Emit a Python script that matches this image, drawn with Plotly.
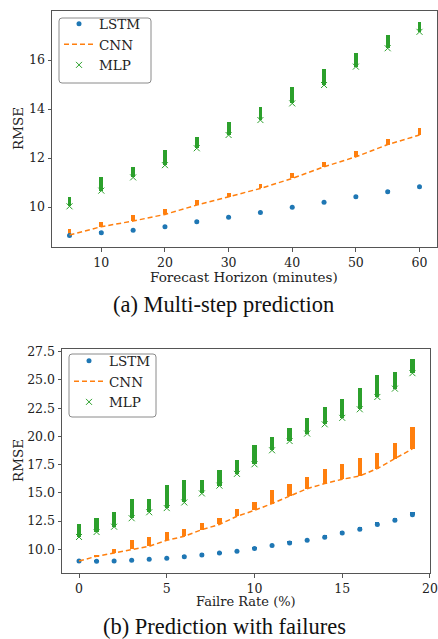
import plotly.graph_objects as go

# ---------------- data: (a) multi-step prediction ----------------
horizon = [5, 10, 15, 20, 25, 30, 35, 40, 45, 50, 55, 60]
lstm_a_mean = [8.84, 8.95, 9.05, 9.20, 9.40, 9.58, 9.78, 9.99, 10.20, 10.42, 10.62, 10.83]
lstm_a_high = [8.90, 9.00, 9.10, 9.25, 9.45, 9.62, 9.83, 10.05, 10.25, 10.47, 10.67, 10.90]
cnn_a_mean = [8.86, 9.20, 9.43, 9.70, 10.08, 10.41, 10.76, 11.17, 11.64, 12.05, 12.55, 12.94]
cnn_a_high = [9.09, 9.40, 9.66, 9.93, 10.29, 10.58, 10.96, 11.37, 11.84, 12.30, 12.78, 13.21]
mlp_a_mean = [10.03, 10.67, 11.21, 11.71, 12.40, 12.94, 13.55, 14.23, 14.98, 15.73, 16.48, 17.15]
mlp_a_high = [10.42, 11.24, 11.62, 12.33, 12.87, 13.48, 14.09, 14.91, 15.62, 16.27, 17.02, 17.56]

# ---------------- data: (b) prediction with failures ----------------
fail_rate = list(range(20))
lstm_b_mean = [8.96, 8.94, 8.96, 9.03, 9.11, 9.20, 9.35, 9.50, 9.67, 9.82,
               10.06, 10.33, 10.56, 10.80, 11.06, 11.45, 11.77, 12.20, 12.57, 13.07]
lstm_b_high = [9.01, 8.99, 9.01, 9.10, 9.20, 9.30, 9.45, 9.62, 9.79, 9.94,
               10.20, 10.48, 10.71, 10.95, 11.24, 11.63, 11.97, 12.40, 12.77, 13.32]
cnn_b_mean = [8.96, 9.38, 9.67, 10.00, 10.27, 10.80, 11.15, 11.74, 12.20, 12.92,
              13.45, 14.05, 14.69, 15.37, 15.82, 16.20, 16.50, 17.15, 18.03, 18.90]
cnn_b_high = [9.05, 9.50, 10.06, 10.80, 11.09, 11.53, 11.83, 12.36, 12.80, 13.60,
              14.19, 15.22, 15.82, 16.40, 17.09, 17.53, 18.12, 18.56, 19.42, 20.83]
mlp_b_mean = [11.09, 11.53, 12.00, 12.75, 13.28, 13.65, 14.15, 14.95, 15.64, 16.68,
              17.53, 18.77, 19.59, 20.25, 21.07, 21.64, 22.40, 23.49, 24.23, 25.60]
mlp_b_high = [12.21, 12.77, 13.28, 14.43, 14.43, 15.67, 16.17, 16.11, 17.06, 17.95,
              19.21, 19.98, 20.78, 21.66, 22.60, 23.32, 24.32, 25.45, 25.73, 26.87]

series_names = ["LSTM", "CNN", "MLP"]
ticks_a_x = [10, 20, 30, 40, 50, 60]
ticks_a_y = [10, 12, 14, 16]
ticks_b_x = [0, 5, 10, 15, 20]
ticks_b_y = [10.0, 12.5, 15.0, 17.5, 20.0, 22.5, 25.0, 27.5]

BLUE, ORANGE, GREEN = "#1f77b4", "#ff7f0e", "#2ca02c"
FONT = "DejaVu Serif"
CAP_FONT = "Liberation Serif"
AX = "#555555"
TXT = "#222222"

fig = go.Figure()


def add_panel(x, means, highs, xa, ya, bw, legend):
    cols = [BLUE, ORANGE, GREEN]
    for m, h, c in zip(means, highs, cols):
        fig.add_trace(go.Bar(
            x=x, y=[hh - mm for hh, mm in zip(h, m)], base=m, width=bw,
            marker=dict(color=c, line=dict(width=0)),
            xaxis=xa, yaxis=ya, showlegend=False, hoverinfo="skip"))
    fig.add_trace(go.Scatter(
        x=x, y=means[0], mode="markers", name=series_names[0],
        marker=dict(color=BLUE, size=5, symbol="circle"),
        xaxis=xa, yaxis=ya, legend=legend))
    fig.add_trace(go.Scatter(
        x=x, y=means[1], mode="lines", name=series_names[1],
        line=dict(color=ORANGE, width=1.5, dash="5px,3px"),
        xaxis=xa, yaxis=ya, legend=legend))
    fig.add_trace(go.Scatter(
        x=x, y=means[2], mode="markers", name=series_names[2],
        marker=dict(color=GREEN, size=6, symbol="x-thin",
                    line=dict(width=1, color=GREEN)),
        xaxis=xa, yaxis=ya, legend=legend))


add_panel(horizon, [lstm_a_mean, cnn_a_mean, mlp_a_mean],
          [lstm_a_high, cnn_a_high, mlp_a_high], "x", "y", 0.6, "legend")
add_panel(fail_rate, [lstm_b_mean, cnn_b_mean, mlp_b_mean],
          [lstm_b_high, cnn_b_high, mlp_b_high], "x2", "y2", 0.24, "legend2")

W, H = 438, 639


def px_x(a, b):
    return [a / W, b / W]


def px_y(top, bot):
    return [1 - bot / H, 1 - top / H]


axis_common = dict(showgrid=False, zeroline=False, showline=True, mirror=True,
                   automargin=False,
                   linecolor=AX, linewidth=1, ticks="outside", ticklen=3.5,
                   tickcolor=AX, tickfont=dict(family=FONT, size=12.5, color=TXT))

legend_common = dict(bgcolor="rgba(0,0,0,0)", borderwidth=0,
                     font=dict(family=FONT, size=13.5, color=TXT),
                     xanchor="left", yanchor="top", tracegroupgap=0,
                     itemwidth=30)


def label(text, x, y, size=13, family=FONT, angle=0, color=TXT):
    return dict(text=text, x=x / W, y=1 - y / H, xref="paper", yref="paper",
                showarrow=False, textangle=angle,
                font=dict(family=family, size=size, color=color),
                xanchor="center", yanchor="middle")


def rounded_box(x0, y0, x1, y1, r=3):
    X0, X1 = x0 / W, x1 / W
    Y0, Y1 = 1 - y0 / H, 1 - y1 / H
    rx, ry = r / W, r / H
    path = (f"M {X0+rx},{Y0} L {X1-rx},{Y0} Q {X1},{Y0} {X1},{Y0-ry} "
            f"L {X1},{Y1+ry} Q {X1},{Y1} {X1-rx},{Y1} "
            f"L {X0+rx},{Y1} Q {X0},{Y1} {X0},{Y1+ry} "
            f"L {X0},{Y0-ry} Q {X0},{Y0} {X0+rx},{Y0} Z")
    return dict(type="path", path=path, xref="paper", yref="paper",
                line=dict(color="#8a8a8a", width=1),
                fillcolor="rgba(255,255,255,0.85)", layer="above")


fig.update_layout(
    width=W, height=H,
    margin=dict(l=0, r=0, t=0, b=0, autoexpand=False),
    paper_bgcolor="white", plot_bgcolor="white",
    barmode="overlay", bargap=0,
    xaxis=dict(domain=px_x(52, 437), range=[2.25, 62.75], tickvals=ticks_a_x,
               anchor="y", **axis_common),
    yaxis=dict(domain=px_y(11, 247), range=[8.37, 18.0], tickvals=ticks_a_y,
               anchor="x", **axis_common),
    xaxis2=dict(domain=px_x(62, 430), range=[-0.97, 20.001], tickvals=ticks_b_x,
                anchor="y2", **axis_common),
    yaxis2=dict(domain=px_y(349, 573), range=[7.9, 27.74], tickvals=ticks_b_y,
                tickformat=".1f", anchor="x2", **axis_common),
    legend=dict(x=59 / W, y=1 - 8.5 / H, **legend_common),
    legend2=dict(x=69 / W, y=1 - 345.5 / H, **legend_common),
    shapes=[rounded_box(59, 18, 151, 83), rounded_box(69, 354, 156, 417)],
    annotations=[
        label("Forecast Horizon (minutes)", 244, 277, size=13.5),
        label("RMSE", 18, 129, angle=-90, size=13.5),
        label("Failre Rate (%)", 246, 601),
        label("RMSE", 18, 461, angle=-90, size=13.5),
        label("(a) Multi-step prediction", 223, 304, size=22.5,
              family=CAP_FONT, color="#111"),
        label("(b) Prediction with failures", 224, 626, size=22.5,
              family=CAP_FONT, color="#111"),
    ],
)

fig.write_html(
    "out.html",
    config={"displayModeBar": False},
    post_script="document.body.style.margin='0';document.body.style.overflow='hidden';",
)
